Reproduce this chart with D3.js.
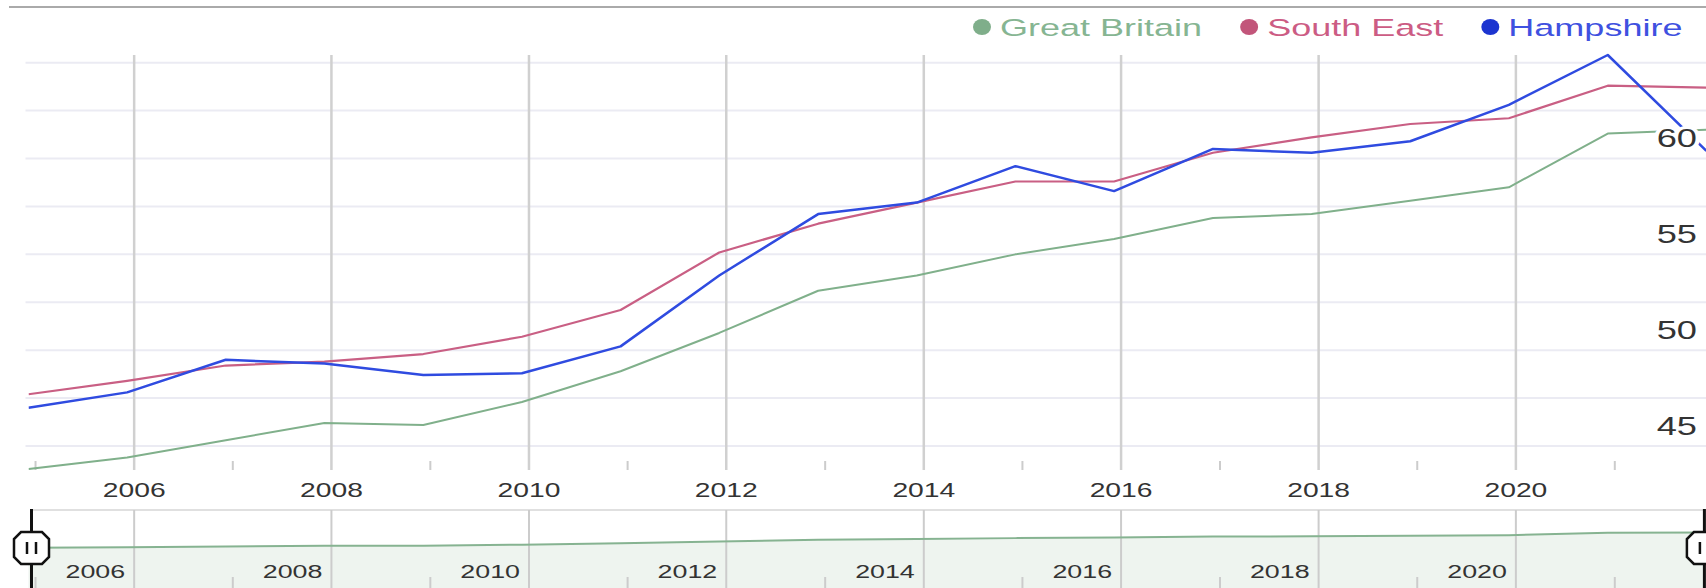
<!DOCTYPE html>
<html>
<head>
<meta charset="utf-8">
<script src="https://cdn.jsdelivr.net/npm/d3@7"></script>
<style>
  html, body { margin: 0; padding: 0; background: #fff; }
  svg { display: block; font-family: "Liberation Sans", Arial, sans-serif; }
</style>
</head>
<body>
<div id="chart"></div>
<script>
const years = [2005, 2006, 2007, 2008, 2009, 2010, 2011, 2012, 2013, 2014, 2015, 2016, 2017, 2018, 2019, 2020, 2021, 2022];
const greatBritain = [43.8, 44.4, 45.3, 46.2, 46.1, 47.3, 48.9, 50.9, 53.1, 53.9, 55.0, 55.8, 56.9, 57.1, 57.8, 58.5, 61.3, 61.5];
const southEast = [47.7, 48.4, 49.2, 49.4, 49.8, 50.7, 52.1, 55.1, 56.6, 57.7, 58.8, 58.8, 60.3, 61.1, 61.8, 62.1, 63.8, 63.7];
const hampshire = [47.0, 47.8, 49.5, 49.3, 48.7, 48.8, 50.2, 53.9, 57.1, 57.7, 59.6, 58.3, 60.5, 60.3, 60.9, 62.8, 65.4, 60.4];

const seriesNames = ["Great Britain", "South East", "Hampshire"];
const yLabelValues = [45, 50, 55, 60];
const yGridValues = [45, 47.5, 50, 52.5, 55, 57.5, 60, 62.5, 65];
const labelYears = [2006, 2008, 2010, 2012, 2014, 2016, 2018, 2020];
const minorYears = [2005, 2007, 2009, 2011, 2013, 2015, 2017, 2019, 2021];

const width = 1706;
const height = 588;
const plot = { left: 28.5, right: 1706.4, top: 55, bottom: 470 };
const nav = { top: 510, bottom: 588 };
const stretch = 1.45;   // the picture is wider than tall, text included

const colors = {
    line: ["#80b08b", "#c95f84", "#2f4be0"],
    dot: ["#7fae8a", "#c2557a", "#1c34d0"],
    text: ["#86b592", "#cc5c84", "#3f51e0"]
};

// points sit a little before the year boundary
const toDate = y => d3.timeDay.offset(new Date(y, 0, 1), -26);
const yearStart = y => new Date(y, 0, 1);

const series = [greatBritain, southEast, hampshire].map((vals, i) => ({
    name: seriesNames[i],
    values: vals.map((v, j) => ({ date: toDate(years[j]), value: v }))
}));

const svg = d3.select("#chart").append("svg")
    .attr("width", width)
    .attr("height", height)
    .attr("viewBox", [0, 0, width, height]);

const x = d3.scaleTime()
    .domain([toDate(years[0]), toDate(years[years.length - 1])])
    .range([plot.left, plot.right]);
const y = d3.scaleLinear().domain([43.75, 65.4]).range([plot.bottom, plot.top]);

function stretchedText(g, tx, ty, txt, size, anchor, fill, sx = stretch) {
    return g.append("text")
        .attr("transform", `translate(${tx},${ty}) scale(${sx},1)`)
        .attr("text-anchor", anchor)
        .attr("font-size", size)
        .attr("fill", fill)
        .text(txt);
}

// top rule
svg.append("line").attr("x1", 9).attr("x2", width).attr("y1", 7).attr("y2", 7)
    .attr("stroke", "#aaa").attr("stroke-width", 2);

// horizontal grid
svg.append("g").selectAll("line").data(yGridValues).join("line")
    .attr("x1", plot.left - 3).attr("x2", width)
    .attr("y1", d => y(d)).attr("y2", d => y(d))
    .attr("stroke", "#ebebf3").attr("stroke-width", 2);

// vertical grid at even years, short ticks at odd years
svg.append("g").selectAll("line").data(labelYears).join("line")
    .attr("x1", d => x(yearStart(d))).attr("x2", d => x(yearStart(d)))
    .attr("y1", plot.top).attr("y2", plot.bottom)
    .attr("stroke", "#d0d0d0").attr("stroke-width", 2.5);
svg.append("g").selectAll("line").data(minorYears).join("line")
    .attr("x1", d => x(yearStart(d))).attr("x2", d => x(yearStart(d)))
    .attr("y1", plot.bottom - 9).attr("y2", plot.bottom)
    .attr("stroke", "#ccc").attr("stroke-width", 2);

svg.append("clipPath").attr("id", "clip").append("rect")
    .attr("x", plot.left).attr("y", plot.top - 10)
    .attr("width", width - plot.left).attr("height", plot.bottom - plot.top + 10);

const line = d3.line().x(d => x(d.date)).y(d => y(d.value));
const widths = [2, 2.2, 2.5];
svg.append("g").attr("clip-path", "url(#clip)")
    .selectAll("path").data(series).join("path")
    .attr("fill", "none")
    .attr("stroke", (d, i) => colors.line[i])
    .attr("stroke-width", (d, i) => widths[i])
    .attr("stroke-linejoin", "round")
    .attr("d", d => line(d.values));

// y labels sit inside the plot on the right, with a white halo
const yLab = svg.append("g");
yLabelValues.forEach(v => {
    stretchedText(yLab, 1697, y(v) - 11.5, v, 25, "end", "#333")
        .attr("stroke", "#fff").attr("stroke-width", 6)
        .attr("stroke-linejoin", "round").attr("paint-order", "stroke");
});

// x labels
const xLab = svg.append("g");
labelYears.forEach(yr => stretchedText(xLab, x(yearStart(yr)), 497, yr, 19.5, "middle", "#333"));

// legend
const legend = svg.append("g");
let lx = 973;
series.forEach((s, i) => {
    legend.append("ellipse").attr("cx", lx + 9).attr("cy", 27).attr("rx", 9).attr("ry", 8)
        .attr("fill", colors.dot[i]);
    const t = stretchedText(legend, lx + 27, 36, s.name, 24.5, "start", colors.text[i], 1.47);
    lx += 27 + t.node().getComputedTextLength() * 1.47 + 38;
});

// navigator
const navY = d3.scaleLinear().domain([0, 88]).range([585, nav.top]);
const gNav = svg.append("g");
gNav.append("line").attr("x1", plot.left + 3).attr("x2", width)
    .attr("y1", nav.top).attr("y2", nav.top)
    .attr("stroke", "#e0e0e0").attr("stroke-width", 2);
gNav.append("path").datum(series[0].values)
    .attr("fill", "#eef4ef")
    .attr("d", d3.area().x(d => x(d.date)).y0(nav.bottom).y1(d => navY(d.value)));
gNav.selectAll(".ng").data(labelYears).join("line").attr("class", "ng")
    .attr("x1", d => x(yearStart(d))).attr("x2", d => x(yearStart(d)))
    .attr("y1", nav.top).attr("y2", nav.bottom)
    .attr("stroke", "#ccc").attr("stroke-width", 2);
gNav.selectAll(".nt").data(minorYears).join("line").attr("class", "nt")
    .attr("x1", d => x(yearStart(d))).attr("x2", d => x(yearStart(d)))
    .attr("y1", nav.bottom - 11).attr("y2", nav.bottom)
    .attr("stroke", "#ccc").attr("stroke-width", 2);
gNav.append("path").datum(series[0].values)
    .attr("fill", "none").attr("stroke", "#86b391").attr("stroke-width", 2)
    .attr("d", d3.line().x(d => x(d.date)).y(d => navY(d.value)));
labelYears.forEach(yr => stretchedText(gNav, x(yearStart(yr)) - 9, 578, yr, 18.5, "end", "#333"));

function handle(cx) {
    const w = 35, h = 32, c = 7, cy = 548;
    const l = cx - w / 2, r = cx + w / 2, t = cy - h / 2, b = cy + h / 2;
    gNav.append("line").attr("x1", cx).attr("x2", cx).attr("y1", nav.top - 1).attr("y2", nav.bottom)
        .attr("stroke", "#111").attr("stroke-width", 3);
    gNav.append("path")
        .attr("d", `M${l + c},${t}L${r - c},${t}L${r},${t + c}L${r},${b - c}L${r - c},${b}L${l + c},${b}L${l},${b - c}L${l},${t + c}Z`)
        .attr("fill", "#fff").attr("stroke", "#111").attr("stroke-width", 2.5);
    [-4.5, 4.5].forEach(dx => gNav.append("line")
        .attr("x1", cx + dx).attr("x2", cx + dx).attr("y1", cy - 6).attr("y2", cy + 6)
        .attr("stroke", "#111").attr("stroke-width", 2.5));
}
handle(plot.left + 3);
handle(plot.right - 2);
</script>
</body>
</html>
